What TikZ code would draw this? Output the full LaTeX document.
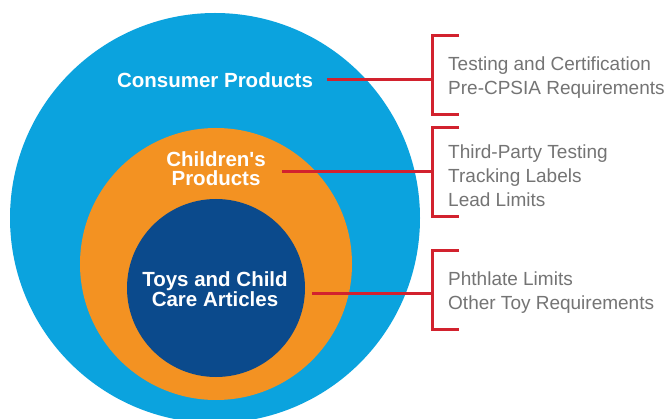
\documentclass[tikz,border=0pt]{standalone}
\usepackage{fontspec}
\setmainfont{Liberation Sans}
\definecolor{skyb}{HTML}{0BA3DE}
\definecolor{orng}{HTML}{F39222}
\definecolor{navy}{HTML}{0B4A8C}
\definecolor{redl}{HTML}{D2222E}
\definecolor{grayt}{HTML}{747474}
\tikzset{
  circ/.style={circle, inner sep=0pt},
  inlabel/.style={text=white, font=\fontsize{20.5}{19}\selectfont\bfseries, align=center, inner sep=0pt},
  outlabel/.style={text=grayt, font=\fontsize{19}{24}\selectfont, align=left, anchor=west, inner sep=0pt},
  redline/.style={draw=redl, line width=3pt},
}
\begin{document}
\begin{tikzpicture}[x=1pt,y=-1pt]
\useasboundingbox[fill=white] (0,0) rectangle (669,419);
\begin{scope}
\clip (0,0) rectangle (669,419);
\node[circ, fill=skyb, minimum size=410pt] (blue) at (215,218) {};
\node[circ, fill=orng, minimum size=272pt] (orange) at (216,264) {};
\node[circ, fill=navy, minimum size=178pt] (dark) at (216,288) {};
\end{scope}
\node[inlabel] (cp) at (215,80) {Consumer Products};
\node[inlabel] (ch) at (216,169) {Children\textquotesingle s\\Products};
\node[inlabel] (ty) at (215,289) {Toys and Child\\Care Articles};
% brackets
\coordinate (b1t) at (459,36);  \coordinate (b1b) at (459,115); \coordinate (b1m) at (432,80);
\coordinate (b2t) at (459,128); \coordinate (b2b) at (459,217); \coordinate (b2m) at (432,172);
\coordinate (b3t) at (459,251); \coordinate (b3b) at (459,330); \coordinate (b3m) at (432,294);
\coordinate (s1) at (327,80);
\coordinate (s2) at (282,172);
\coordinate (s3) at (312,294);
\draw[redline] (b1t) -| (b1m) |- (b1b);
\draw[redline] (b2t) -| (b2m) |- (b2b);
\draw[redline] (b3t) -| (b3m) |- (b3b);
\draw[redline] (s1) -- (b1m);
\draw[redline] (s2) -- (b2m);
\draw[redline] (s3) -- (b3m);
\node[outlabel] (t1) at (448,78) {Testing and Certification\\Pre-CPSIA Requirements};
\node[outlabel] (t2) at (448,175.5) {Third-Party Testing\\Tracking Labels\\Lead Limits};
\node[outlabel] (t3) at (448,293) {Phthlate Limits\\Other Toy Requirements};
\end{tikzpicture}
\end{document}
